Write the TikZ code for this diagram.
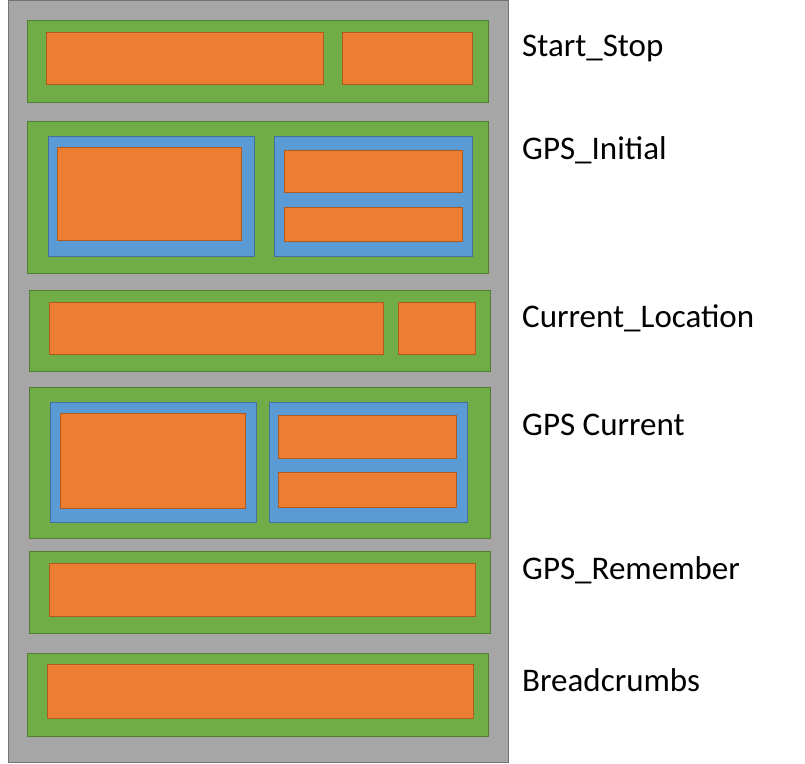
\documentclass[tikz,border=0pt]{standalone}
\usepackage{fontspec}
\setmainfont{Carlito}
\begin{document}
\begin{tikzpicture}[x=1pt,y=-1pt,
 gbox/.style={fill=gray!70,draw=black!55,line width=1pt},
 grn/.style={fill={rgb,255:red,112;green,173;blue,71},draw={rgb,255:red,80;green,126;blue,50},line width=1pt},
 blu/.style={fill={rgb,255:red,91;green,155;blue,213},draw={rgb,255:red,65;green,113;blue,156},line width=1pt},
 org/.style={fill={rgb,255:red,237;green,125;blue,49},draw={rgb,255:red,174;green,90;blue,33},line width=1pt},
 lbl/.style={anchor=west,font=\fontsize{33}{38}\selectfont,inner sep=0pt}]
\useasboundingbox (0,0) rectangle (805,763);
\draw[gbox] (8,0) rectangle (508,762);
% 1
\draw[grn] (27,20) rectangle (488,102);
\draw[org] (46,32) rectangle (323,84);
\draw[org] (342,32) rectangle (472,84);
% 2
\draw[grn] (27,121) rectangle (488,273);
\draw[blu] (48,136) rectangle (254,256);
\draw[blu] (274,136) rectangle (472,256);
\draw[org] (57,147) rectangle (241,240);
\draw[org] (284,150) rectangle (462,192);
\draw[org] (284,207) rectangle (462,241);
% 3
\draw[grn] (29,290) rectangle (490,371);
\draw[org] (49,302) rectangle (383,354);
\draw[org] (398,302) rectangle (475,354);
% 4
\draw[grn] (29,387) rectangle (490,538);
\draw[blu] (50,402) rectangle (256,522);
\draw[blu] (269,402) rectangle (467,522);
\draw[org] (60,413) rectangle (245,508);
\draw[org] (278,415) rectangle (456,458);
\draw[org] (278,472) rectangle (456,507);
% 5
\draw[grn] (29,551) rectangle (490,633);
\draw[org] (49,563) rectangle (475,616);
% 6
\draw[grn] (27,653) rectangle (488,736);
\draw[org] (47,664) rectangle (473,718);
\node[lbl] (l1) at (522,48) {Start\_Stop};
\node[lbl] (l2) at (522,150) {GPS\_Initial};
\node[lbl] (l3) at (522,318) {Current\_Location};
\node[lbl] (l4) at (522,425) {GPS Current};
\node[lbl] (l5) at (522,570) {GPS\_Remember};
\node[lbl] (l6) at (522,680) {Breadcrumbs};
\end{tikzpicture}
\end{document}
